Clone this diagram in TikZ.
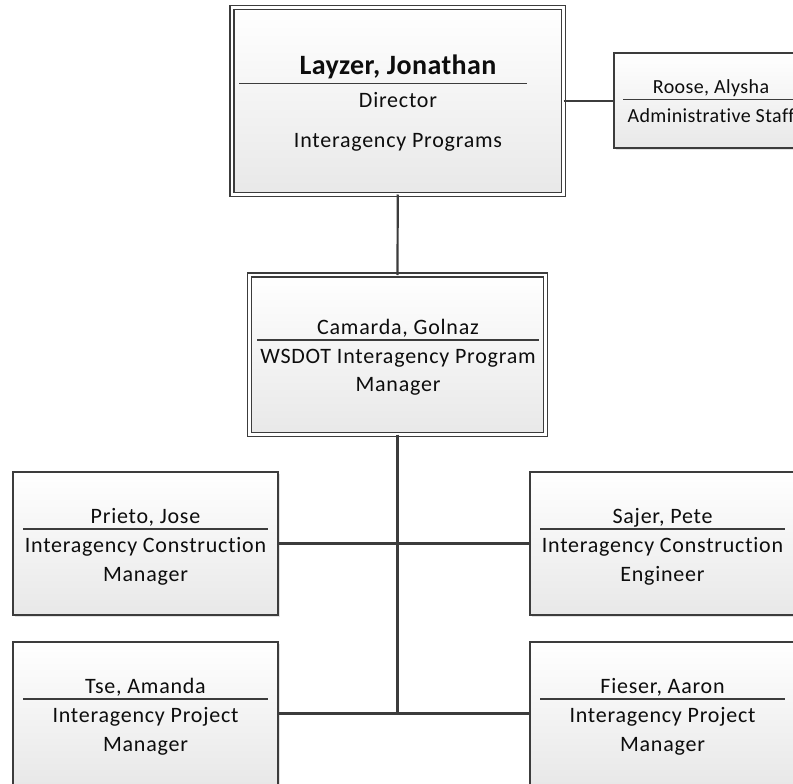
\documentclass[tikz,border=0pt]{standalone}
\usepackage{fontspec}
\setmainfont{Carlito}[Ligatures=NoCommon]
\newfontfamily\bodyfont[LetterSpace=3.5,Ligatures=NoCommon]{Carlito}
\newfontfamily\smallfont[LetterSpace=2,Ligatures=NoCommon]{Carlito}
\newfontfamily\headfont[LetterSpace=1.5,Ligatures=NoCommon]{Carlito}
\usetikzlibrary{shadows}
\definecolor{ln}{HTML}{3C3C3C}
\definecolor{txt}{HTML}{0D0D0D}
\definecolor{shd}{HTML}{E8E8E8}
\tikzset{
  card/.style={draw=ln, line width=1.9pt, top color=white, bottom color=shd,
    inner sep=0pt, outer sep=0pt,
    drop shadow={shadow xshift=2pt, shadow yshift=-2pt, opacity=0.22}},
  dcard/.style={card, double=white, double distance=2.4pt, line width=1.6pt},
  conn/.style={draw=ln, line width=2.2pt},
  sepline/.style={draw=ln, line width=1.1pt},
  lbl/.style={text=txt, inner sep=0pt, anchor=base, font=\bodyfont\fontsize{22}{27}\selectfont},
  slbl/.style={lbl, font=\smallfont\fontsize{20}{24}\selectfont},
  hlbl/.style={lbl, font=\headfont\bfseries\fontsize{28}{34}\selectfont}
}
\begin{document}
\begin{tikzpicture}[x=1pt,y=-1pt]
\useasboundingbox (0,0) rectangle (793,784);
% boxes
\node[dcard, minimum width=331.5pt, minimum height=187pt] (dir) at (397.75,101) {};
\node[card, minimum width=194pt, minimum height=95pt] (adm) at (711,100.5) {};
\node[dcard, minimum width=296pt, minimum height=159.5pt] (pm) at (397.5,354.75) {};
\node[card, minimum width=265pt, minimum height=143pt] (cm) at (145.5,543.5) {};
\node[card, minimum width=265pt, minimum height=143pt] (ce) at (662.5,543.5) {};
\node[card, minimum width=265pt, minimum height=143pt] (tse) at (145.5,713.5) {};
\node[card, minimum width=265pt, minimum height=143pt] (fie) at (662.5,713.5) {};
% connectors
\draw[conn] (dir.south) -- (pm.north);
\draw[conn] (dir.east) -- (dir.east -| adm.west);
\draw[conn] (pm.south) -- (pm.south |- tse.east);
\draw[conn] (cm.east) -- (ce.west);
\draw[conn] (tse.east) -- (fie.west);
% director
\node[hlbl] (t1) at (398,75) {Layzer, Jonathan};
\draw[sepline] (239,83.3) -- (527,83.3);
\node[lbl] (t2) at (398,107) {Director};
\node[lbl] (t3) at (398,147) {Interagency Programs};
% admin
\node[slbl] (r1) at (711,94) {Roose, Alysha};
\draw[sepline] (623,99.3) -- (800,99.3);
\node[slbl] (r2) at (711,122.3) {Administrative Staff};
% program manager
\node[lbl] (p1) at (398,334) {Camarda, Golnaz};
\draw[sepline] (257,340) -- (539,340);
\node[lbl] (p2) at (398,363.3) {WSDOT Interagency Program};
\node[lbl] (p3) at (398,391.7) {Manager};
% construction manager
\node[lbl] (c1) at (145.5,523.5) {Prieto, Jose};
\draw[sepline] (23,529) -- (268,529);
\node[lbl] (c2) at (145.5,552) {Interagency Construction};
\node[lbl] (c3) at (145.5,581) {Manager};
% construction engineer
\node[lbl] (e1) at (662.5,523.5) {Sajer, Pete};
\draw[sepline] (540,529) -- (785,529);
\node[lbl] (e2) at (662.5,552) {Interagency Construction};
\node[lbl] (e3) at (662.5,581) {Engineer};
% project managers
\node[lbl] (a1) at (145.5,693.5) {Tse, Amanda};
\draw[sepline] (23,699) -- (268,699);
\node[lbl] (a2) at (145.5,722) {Interagency Project};
\node[lbl] (a3) at (145.5,751) {Manager};
\node[lbl] (f1) at (662.5,693.5) {Fieser, Aaron};
\draw[sepline] (540,699) -- (785,699);
\node[lbl] (f2) at (662.5,722) {Interagency Project};
\node[lbl] (f3) at (662.5,751) {Manager};
\end{tikzpicture}
\end{document}
